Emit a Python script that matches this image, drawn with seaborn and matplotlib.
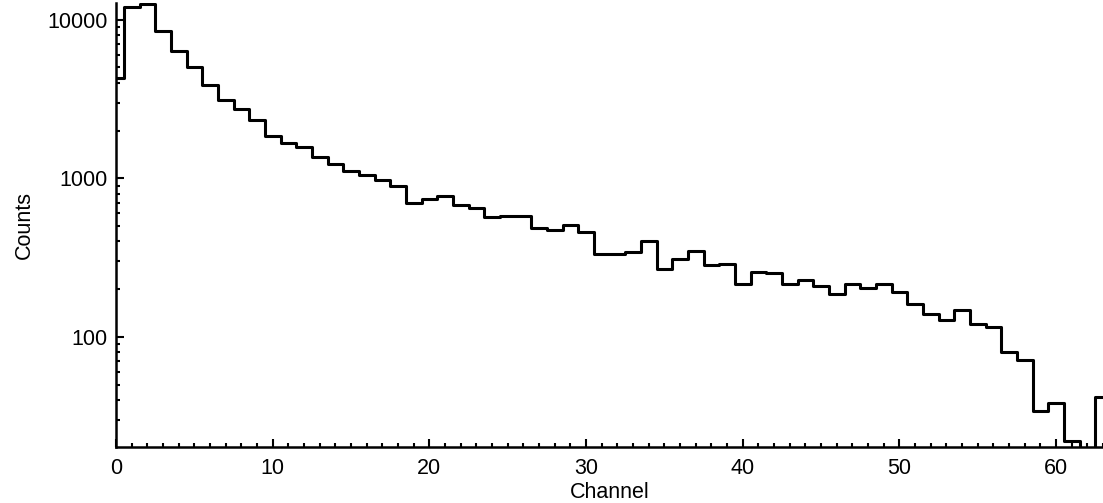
import numpy as np
import pandas as pd
import seaborn as sns
import matplotlib.pyplot as plt
from matplotlib.ticker import MultipleLocator, LogLocator, FuncFormatter, NullFormatter

# значения каналов (бин k центрирован на k)
channel = list(range(64))
counts = [4310, 12080, 12560, 8490, 6350, 5030, 3875, 3100, 2745, 2330,
          1856, 1677, 1575, 1368, 1231, 1107, 1045, 971, 891, 702,
          744, 774, 676, 653, 570, 581, 576, 488, 472, 510,
          456, 332, 332, 344, 401, 268, 308, 350, 283, 288,
          216, 257, 252, 216, 227, 208, 185, 217, 203, 216,
          192, 162, 139, 128, 148, 120, 115, 80, 71, 34,
          38, 22, 15, 42]

df = pd.DataFrame({'channel': channel, 'counts': counts})

sns.set_style('ticks', {'text.color': 'black', 'axes.labelcolor': 'black',
                        'xtick.color': 'black', 'ytick.color': 'black'})
plt.rcParams['font.family'] = ['Liberation Sans', 'DejaVu Sans']

fig = plt.figure(figsize=(11.03, 5.03), dpi=100)
ax = fig.add_axes([116 / 1103, 1 - 447 / 503, 1 - 116 / 1103, (447 - 3) / 503])

# discrete=True -> бины шириной 1 с центром на целых каналах
sns.histplot(data=df, x='channel', weights='counts', discrete=True, element='step',
             fill=False, color='black', linewidth=2.2, ax=ax)
ax.set_yscale('log')
ax.set_xlim(0, 63)
ax.set_ylim(20.2, 12750)

ax.xaxis.set_major_locator(MultipleLocator(10))
ax.xaxis.set_minor_locator(MultipleLocator(1))
ax.yaxis.set_major_locator(LogLocator(base=10))
ax.yaxis.set_minor_locator(LogLocator(base=10, subs=np.arange(2, 10)))
ax.yaxis.set_major_formatter(FuncFormatter(lambda v, p: '%d' % v))
ax.yaxis.set_minor_formatter(NullFormatter())

ax.tick_params(which='both', direction='in', width=1.5, labelsize=15.5,
               color='black', labelcolor='black')
ax.tick_params(which='major', length=5.5)
ax.tick_params(which='minor', length=3)
ax.tick_params(axis='y', pad=6)
ax.tick_params(axis='x', pad=8)

for s in ['top', 'right']:
    ax.spines[s].set_visible(False)
for s in ['left', 'bottom']:
    ax.spines[s].set_linewidth(1.8)
    ax.spines[s].set_color('black')

ax.set_xlabel('Channel', fontsize=15.5, labelpad=2, color='black')
ax.set_ylabel('Counts', fontsize=15.5, labelpad=9, color='black')

fig.savefig('out.png', dpi=100)
